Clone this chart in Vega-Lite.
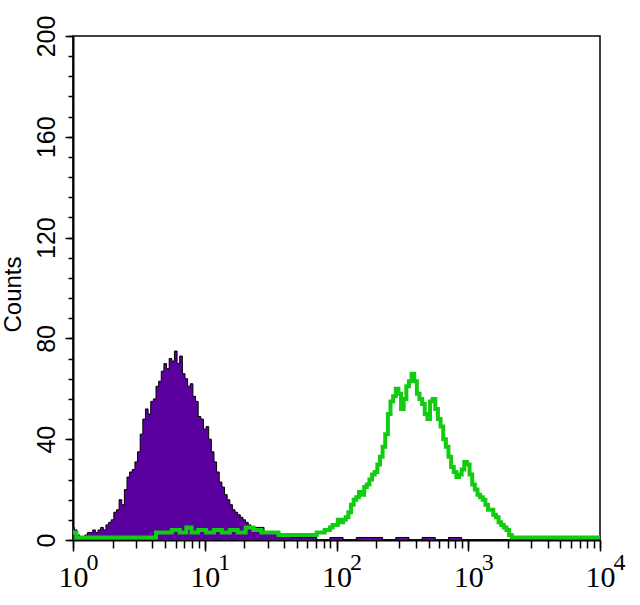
{
  "$schema": "https://vega.github.io/schema/vega-lite/v6.json",
  "description": "Flow cytometry histogram: isotype control vs stained sample",
  "width": 527,
  "height": 504,
  "autosize": "none",
  "padding": {"left": 73, "top": 36, "right": 40, "bottom": 65},
  "background": "white",
  "datasets": {
    "control": [
      {"fl": 1, "count": 5}, {"fl": 1.0471, "count": 4}, {"fl": 1.0965, "count": 2}, {"fl": 1.1482, "count": 1},
      {"fl": 1.2023, "count": 1}, {"fl": 1.2589, "count": 2}, {"fl": 1.3183, "count": 3}, {"fl": 1.3804, "count": 3},
      {"fl": 1.4454, "count": 4}, {"fl": 1.5136, "count": 3}, {"fl": 1.5849, "count": 4}, {"fl": 1.6596, "count": 5},
      {"fl": 1.7378, "count": 4}, {"fl": 1.8197, "count": 6}, {"fl": 1.9055, "count": 7}, {"fl": 1.9953, "count": 8},
      {"fl": 2.0893, "count": 11}, {"fl": 2.1878, "count": 12}, {"fl": 2.2909, "count": 16}, {"fl": 2.3988, "count": 14},
      {"fl": 2.5119, "count": 20}, {"fl": 2.6303, "count": 25}, {"fl": 2.7542, "count": 27}, {"fl": 2.884, "count": 28},
      {"fl": 3.02, "count": 31}, {"fl": 3.1623, "count": 35}, {"fl": 3.3113, "count": 42}, {"fl": 3.4674, "count": 48},
      {"fl": 3.6308, "count": 52}, {"fl": 3.8019, "count": 50}, {"fl": 3.9811, "count": 55}, {"fl": 4.1687, "count": 56},
      {"fl": 4.3652, "count": 61}, {"fl": 4.5709, "count": 63}, {"fl": 4.7863, "count": 67}, {"fl": 5.0119, "count": 70},
      {"fl": 5.2481, "count": 68}, {"fl": 5.4954, "count": 72}, {"fl": 5.7544, "count": 71}, {"fl": 6.0256, "count": 75},
      {"fl": 6.3096, "count": 70}, {"fl": 6.6069, "count": 73}, {"fl": 6.9183, "count": 66}, {"fl": 7.2444, "count": 64},
      {"fl": 7.5858, "count": 61}, {"fl": 7.9433, "count": 62}, {"fl": 8.3176, "count": 57}, {"fl": 8.7096, "count": 55},
      {"fl": 9.1201, "count": 49}, {"fl": 9.5499, "count": 48}, {"fl": 10, "count": 44}, {"fl": 10.471, "count": 45},
      {"fl": 10.965, "count": 40}, {"fl": 11.482, "count": 35}, {"fl": 12.023, "count": 31}, {"fl": 12.589, "count": 27},
      {"fl": 13.183, "count": 23}, {"fl": 13.804, "count": 21}, {"fl": 14.454, "count": 18}, {"fl": 15.136, "count": 16},
      {"fl": 15.849, "count": 14}, {"fl": 16.596, "count": 12}, {"fl": 17.378, "count": 11}, {"fl": 18.197, "count": 10},
      {"fl": 19.055, "count": 9}, {"fl": 19.953, "count": 8}, {"fl": 20.893, "count": 7}, {"fl": 21.878, "count": 6},
      {"fl": 22.909, "count": 5}, {"fl": 23.988, "count": 5}, {"fl": 25.119, "count": 5},
      {"fl": 31.623, "count": 3}, {"fl": 39.811, "count": 2}, {"fl": 50.119, "count": 1}, {"fl": 63.096, "count": 1},
      {"fl": 79.433, "count": 0}, {"fl": 100, "count": 1}, {"fl": 125.89, "count": 0}, {"fl": 158.49, "count": 1},
      {"fl": 199.53, "count": 1}, {"fl": 251.19, "count": 0}, {"fl": 316.23, "count": 1}, {"fl": 398.11, "count": 0},
      {"fl": 501.19, "count": 1}, {"fl": 630.96, "count": 0}, {"fl": 794.33, "count": 1}, {"fl": 1000, "count": 0},
      {"fl": 1584.9, "count": 0}, {"fl": 3162.3, "count": 0}, {"fl": 6309.6, "count": 1}, {"fl": 7943.3, "count": 0},
      {"fl": 10000, "count": 0}
    ],
    "stained": [
      {"fl": 1, "count": 3}, {"fl": 1.122, "count": 1}, {"fl": 1.2589, "count": 1}, {"fl": 1.5849, "count": 1},
      {"fl": 1.9953, "count": 1}, {"fl": 2.5119, "count": 1}, {"fl": 3.1623, "count": 1}, {"fl": 3.9811, "count": 1},
      {"fl": 4.5709, "count": 3}, {"fl": 5.2481, "count": 3}, {"fl": 6.0256, "count": 4}, {"fl": 6.9183, "count": 3},
      {"fl": 7.5858, "count": 5}, {"fl": 8.3176, "count": 3}, {"fl": 9.5499, "count": 4}, {"fl": 10.965, "count": 3},
      {"fl": 12.589, "count": 4}, {"fl": 14.454, "count": 3}, {"fl": 16.596, "count": 4}, {"fl": 19.055, "count": 3},
      {"fl": 21.878, "count": 5}, {"fl": 25.119, "count": 4}, {"fl": 28.84, "count": 3}, {"fl": 33.113, "count": 3},
      {"fl": 39.811, "count": 2}, {"fl": 50.119, "count": 2}, {"fl": 63.096, "count": 2},
      {"fl": 79.433, "count": 3}, {"fl": 83.176, "count": 4}, {"fl": 87.096, "count": 4}, {"fl": 91.201, "count": 5},
      {"fl": 95.499, "count": 6}, {"fl": 100, "count": 6}, {"fl": 104.71, "count": 8}, {"fl": 109.65, "count": 7},
      {"fl": 114.82, "count": 8}, {"fl": 120.23, "count": 9}, {"fl": 125.89, "count": 11}, {"fl": 131.83, "count": 14},
      {"fl": 138.04, "count": 16}, {"fl": 144.54, "count": 17}, {"fl": 151.36, "count": 19}, {"fl": 158.49, "count": 18},
      {"fl": 165.96, "count": 21}, {"fl": 173.78, "count": 22}, {"fl": 181.97, "count": 24}, {"fl": 190.55, "count": 26},
      {"fl": 199.53, "count": 27}, {"fl": 208.93, "count": 30}, {"fl": 218.78, "count": 33}, {"fl": 229.09, "count": 37},
      {"fl": 239.88, "count": 42}, {"fl": 251.19, "count": 50}, {"fl": 263.03, "count": 55}, {"fl": 275.42, "count": 57},
      {"fl": 288.4, "count": 60}, {"fl": 302, "count": 58}, {"fl": 316.23, "count": 52}, {"fl": 331.13, "count": 56},
      {"fl": 346.74, "count": 61}, {"fl": 363.08, "count": 63}, {"fl": 380.19, "count": 66}, {"fl": 398.11, "count": 63},
      {"fl": 416.87, "count": 58}, {"fl": 436.52, "count": 56}, {"fl": 457.09, "count": 54}, {"fl": 478.63, "count": 50},
      {"fl": 501.19, "count": 48}, {"fl": 524.81, "count": 55}, {"fl": 549.54, "count": 56}, {"fl": 575.44, "count": 52},
      {"fl": 602.56, "count": 48}, {"fl": 630.96, "count": 45}, {"fl": 660.69, "count": 40}, {"fl": 691.83, "count": 37},
      {"fl": 724.44, "count": 33}, {"fl": 758.58, "count": 29}, {"fl": 794.33, "count": 27}, {"fl": 831.76, "count": 25},
      {"fl": 870.96, "count": 26}, {"fl": 912.01, "count": 28}, {"fl": 954.99, "count": 31}, {"fl": 1000, "count": 30},
      {"fl": 1047.1, "count": 26}, {"fl": 1096.5, "count": 22}, {"fl": 1148.2, "count": 20}, {"fl": 1202.3, "count": 18},
      {"fl": 1258.9, "count": 17}, {"fl": 1318.3, "count": 16}, {"fl": 1380.4, "count": 14}, {"fl": 1445.4, "count": 12},
      {"fl": 1513.6, "count": 12}, {"fl": 1584.9, "count": 10}, {"fl": 1659.6, "count": 9}, {"fl": 1737.8, "count": 7},
      {"fl": 1819.7, "count": 6}, {"fl": 1905.5, "count": 5}, {"fl": 1995.3, "count": 4}, {"fl": 2089.3, "count": 2},
      {"fl": 2187.8, "count": 1}, {"fl": 2511.9, "count": 1}, {"fl": 3981.1, "count": 1}, {"fl": 6309.6, "count": 1},
      {"fl": 10000, "count": 1}
    ]
  },
  "layer": [
    {
      "data": {"name": "control"},
      "mark": {"type": "area", "interpolate": "step", "color": "#5a009e", "opacity": 1},
      "encoding": {
        "x": {
          "field": "fl",
          "type": "quantitative",
          "scale": {"type": "log", "domain": [1, 10000], "nice": false},
          "axis": {
            "orient": "bottom",
            "title": null,
            "grid": false,
            "labels": false,
            "values": [1, 2, 3, 4, 5, 6, 7, 8, 9, 10, 20, 30, 40, 50, 60, 70, 80, 90, 100, 200, 300, 400, 500, 600, 700, 800, 900, 1000, 2000, 3000, 4000, 5000, 6000, 7000, 8000, 9000, 10000],
            "tickSize": 8,
            "tickWidth": 1.5,
            "domainWidth": 2
          }
        },
        "y": {
          "field": "count",
          "type": "quantitative",
          "scale": {"domain": [0, 200], "nice": false},
          "axis": {
            "orient": "left",
            "title": null,
            "grid": false,
            "labels": false,
            "values": [0, 8, 16, 24, 32, 40, 48, 56, 64, 72, 80, 88, 96, 104, 112, 120, 128, 136, 144, 152, 160, 168, 176, 184, 192, 200],
            "tickSize": 5,
            "tickWidth": 1.5,
            "domainWidth": 2
          }
        }
      }
    },
    {
      "data": {"name": "control"},
      "mark": {"type": "line", "interpolate": "step", "color": "black", "strokeWidth": 1},
      "encoding": {
        "x": {
          "field": "fl",
          "type": "quantitative",
          "axis": {
            "orient": "bottom",
            "title": null,
            "grid": false,
            "domain": false,
            "values": [1, 10, 100, 1000, 10000],
            "labelExpr": "'10'",
            "tickSize": 11,
            "tickWidth": 1.5,
            "labelFont": "Liberation Sans Narrow",
            "labelFontSize": 30,
            "labelPadding": 11,
            "labelAlign": "center",
            "labelFlush": false,
            "labelOverlap": false,
            "labelBound": false
          }
        },
        "y": {
          "field": "count",
          "type": "quantitative",
          "axis": {
            "orient": "left",
            "title": "Counts",
            "grid": false,
            "domain": false,
            "values": [0, 40, 80, 120, 160, 200],
            "tickSize": 8,
            "tickWidth": 1.5,
            "labelAngle": 270,
            "labelAlign": "center",
            "labelBaseline": "bottom",
            "labelFont": "Liberation Sans",
            "labelFontSize": 25,
            "labelPadding": 6,
            "labelOverlap": false,
            "labelBound": false,
            "titleFont": "Liberation Sans",
            "titleFontSize": 24,
            "titleFontWeight": "normal",
            "titleAngle": 270,
            "titleAlign": "center",
            "titleBaseline": "middle",
            "titleX": -60,
            "titleY": 258
          }
        }
      }
    },
    {
      "data": {"name": "stained"},
      "mark": {"type": "line", "interpolate": "step", "color": "#11cc11", "strokeWidth": 4},
      "encoding": {
        "x": {
          "field": "fl",
          "type": "quantitative",
          "axis": {
            "orient": "bottom",
            "title": null,
            "grid": false,
            "domain": false,
            "ticks": false,
            "values": [1, 10, 100, 1000, 10000],
            "labelExpr": "datum.value == 1 ? '0' : datum.value == 10 ? '1' : datum.value == 100 ? '2' : datum.value == 1000 ? '3' : '4'",
            "labelFont": "Liberation Sans Narrow",
            "labelFontSize": 24,
            "labelPadding": 10,
            "labelOffset": 19,
            "labelAlign": "center",
            "labelFlush": false,
            "labelOverlap": false,
            "labelBound": false
          }
        },
        "y": {"field": "count", "type": "quantitative", "axis": null}
      }
    }
  ],
  "resolve": {"axis": {"x": "independent", "y": "independent"}},
  "config": {
    "view": {"stroke": "black", "strokeWidth": 1.5},
    "axis": {"domainColor": "black", "tickColor": "black", "labelColor": "black", "titleColor": "black"}
  }
}
